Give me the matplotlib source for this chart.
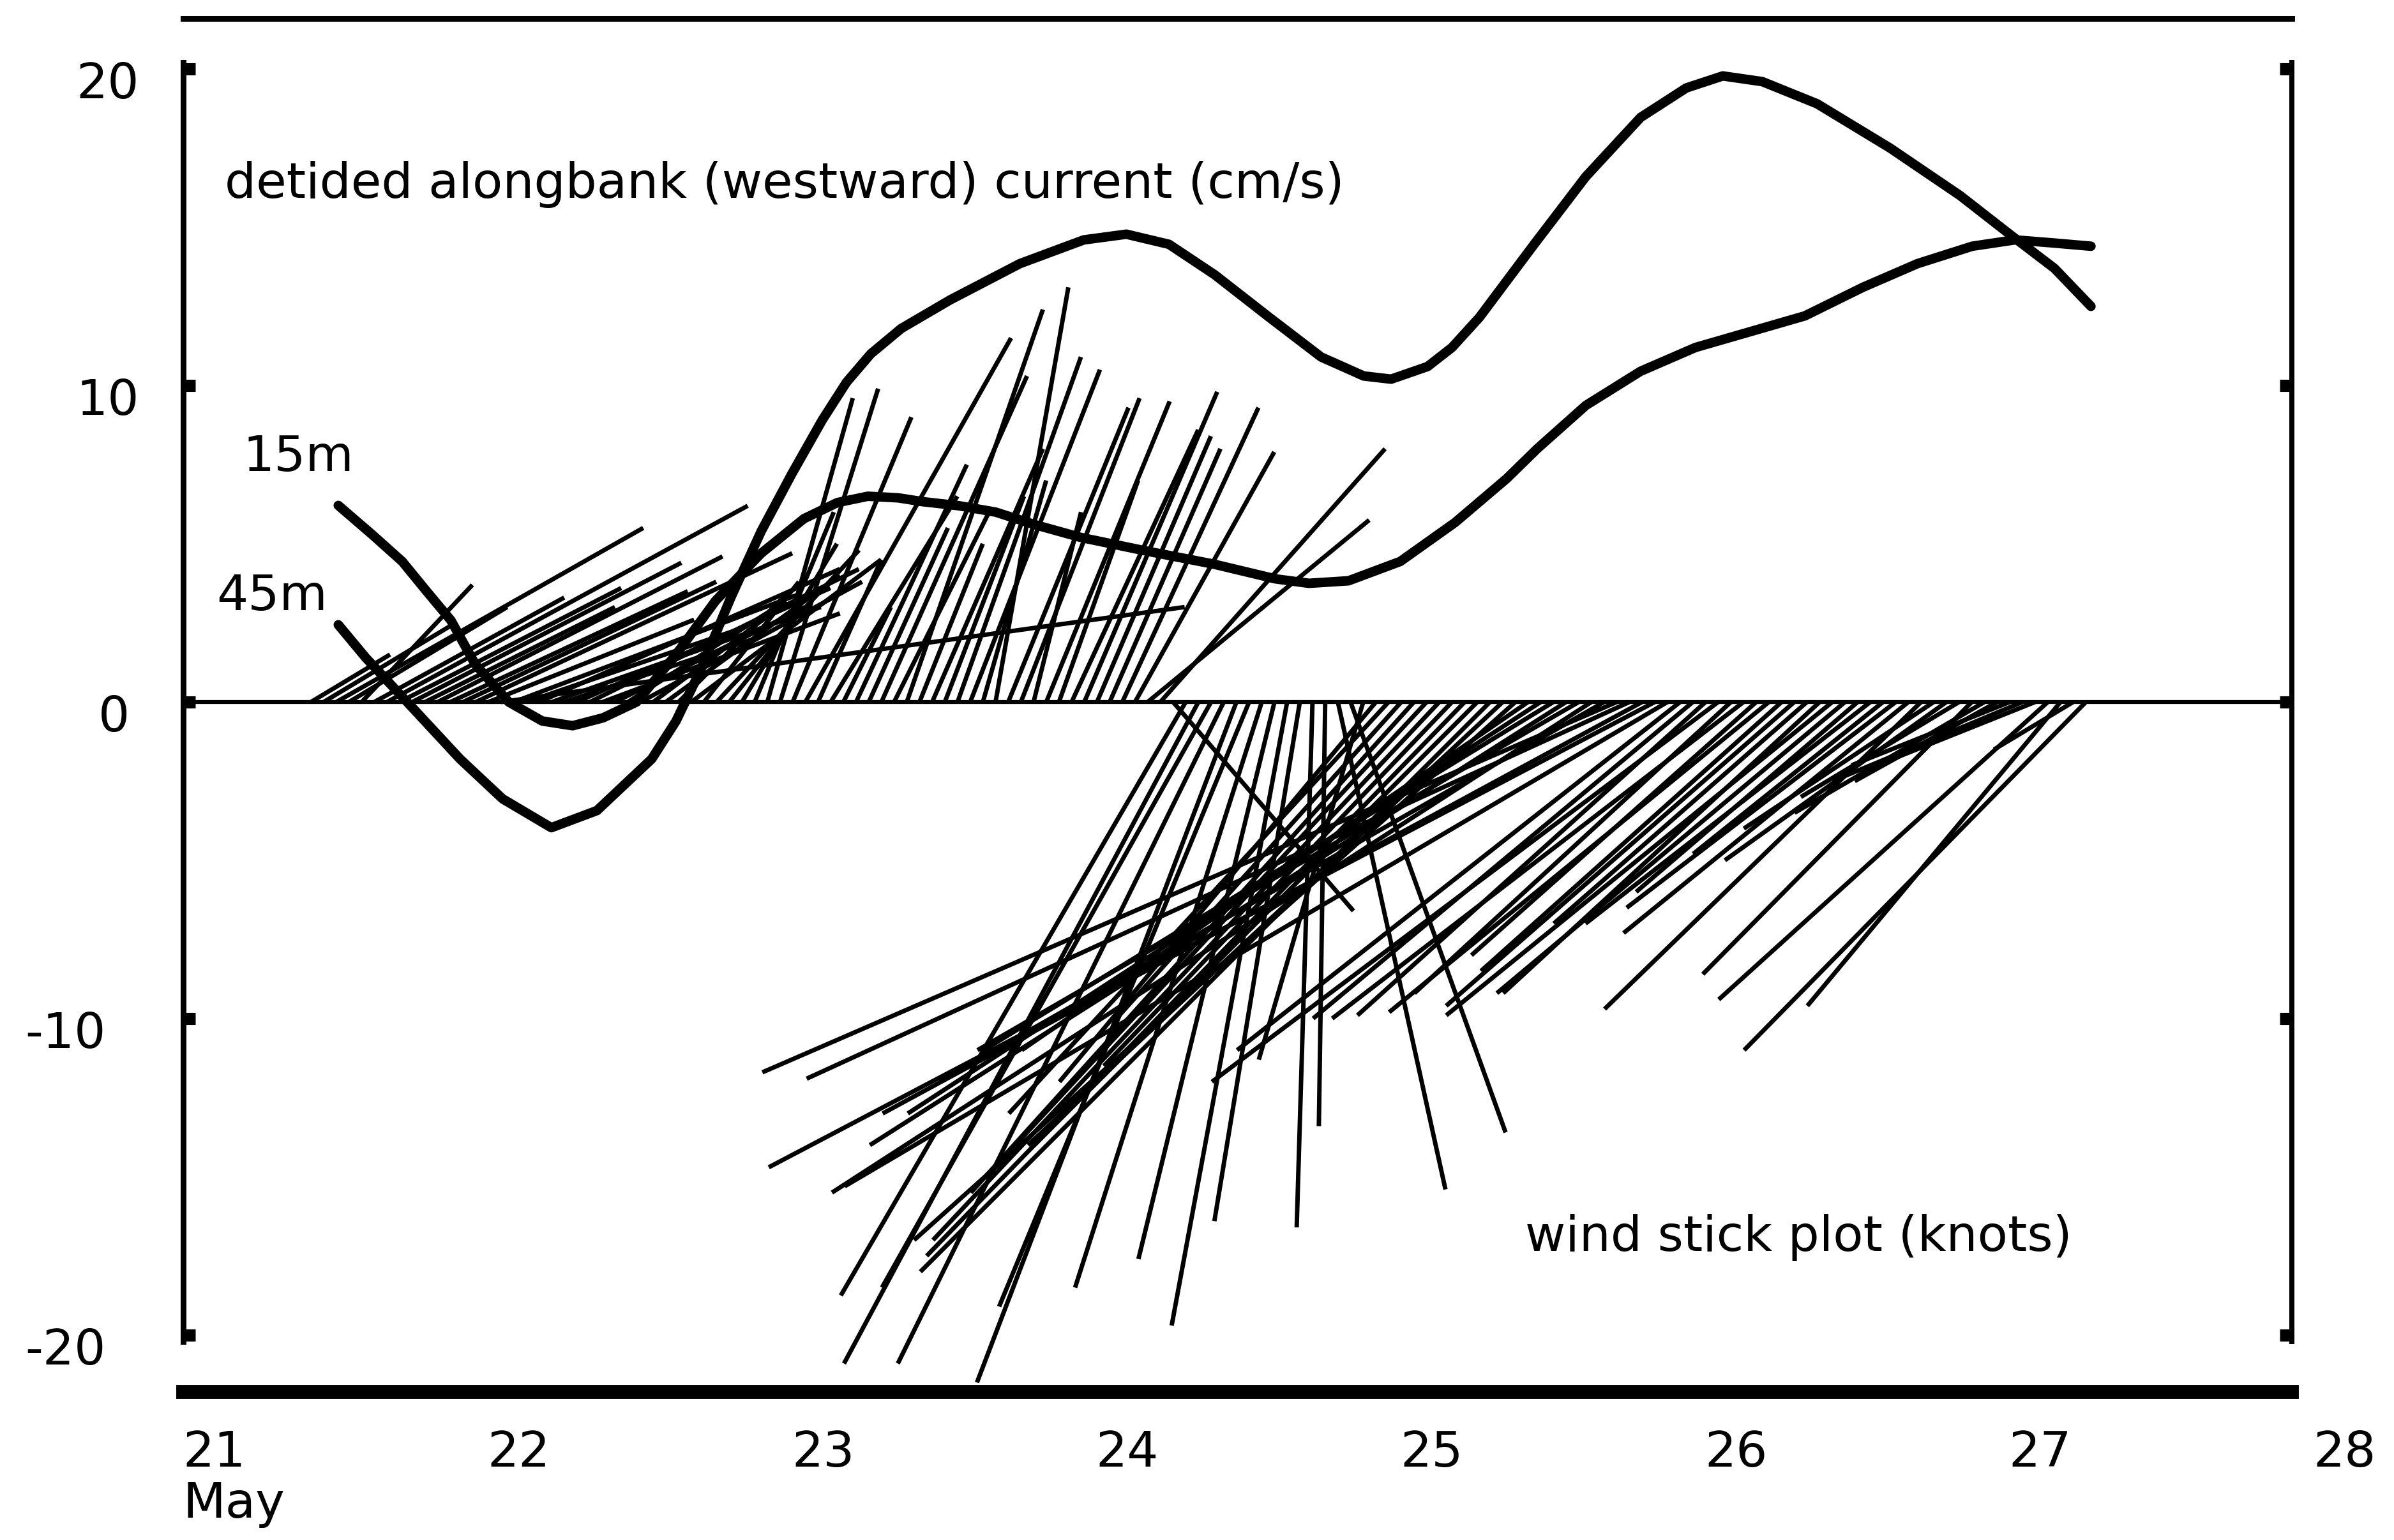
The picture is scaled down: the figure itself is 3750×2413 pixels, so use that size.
import numpy as np
import matplotlib
matplotlib.use('Agg')
import matplotlib.pyplot as plt
from matplotlib import rcParams
import matplotlib.transforms as mtransforms

rcParams['font.family'] = 'DejaVu Sans'
rcParams['font.size'] = 22.3

# ---------------- data ----------------
# detided alongbank current, 45 m (the curve that dips to -4 and peaks near 20)
cur45_day = [21.51, 21.60, 21.74, 21.91, 22.05, 22.21, 22.36, 22.54, 22.62, 22.70,
             22.80, 22.90, 23.00, 23.10, 23.18, 23.26, 23.36, 23.52, 23.75, 23.96,
             24.10, 24.24, 24.39, 24.57, 24.74, 24.88, 24.97, 25.09, 25.17, 25.26,
             25.44, 25.61, 25.79, 25.94, 26.06, 26.19, 26.37, 26.61, 26.84, 27.00,
             27.15, 27.27]
cur45_val = [2.44, 1.40, -0.04, -1.80, -3.06, -3.97, -3.43, -1.80, -0.60, 1.00,
             3.30, 5.40, 7.20, 8.90, 10.10, 11.00, 11.80, 12.70, 13.85, 14.60,
             14.78, 14.46, 13.50, 12.15, 10.90, 10.30, 10.20, 10.60, 11.20, 12.15,
             14.46, 16.60, 18.47, 19.40, 19.78, 19.60, 18.90, 17.50, 16.00, 14.80,
             13.70, 12.50]

# detided alongbank current, 15 m
cur15_day = [21.51, 21.62, 21.72, 21.80, 21.88, 21.96, 22.07, 22.18, 22.28, 22.38,
             22.49, 22.62, 22.75, 22.90, 23.04, 23.15, 23.25, 23.35, 23.43, 23.55,
             23.67, 23.80, 23.95, 24.15, 24.39, 24.59, 24.70, 24.83, 25.00, 25.18,
             25.35, 25.45, 25.61, 25.79, 25.97, 26.15, 26.33, 26.52, 26.70, 26.88,
             27.02, 27.15, 27.27]
cur15_val = [6.21, 5.30, 4.44, 3.50, 2.58, 1.19, 0.00, -0.60, -0.75, -0.50,
             0.00, 1.50, 3.20, 4.70, 5.79, 6.30, 6.50, 6.45, 6.33, 6.20,
             6.00, 5.60, 5.20, 4.80, 4.35, 3.89, 3.75, 3.83, 4.44, 5.67,
             7.06, 8.00, 9.37, 10.45, 11.20, 11.70, 12.20, 13.10, 13.85, 14.40,
             14.60, 14.50, 14.40]

# hourly wind (knots), east (u) and north (v) components, first stick at 21.42 May
wind_start = 21.42
wind_u = [
    2.5, 4.0, 9.7, 5.0, 3.5, 6.0, 11.4, 7.0, 8.5, 6.0, 9.0, 7.5,
    8.0, 10.0, 6.5, 21.6, 9.0, 7.0, 9.5, 8.5, 6.0, 8.0, 8.5, 7.5,
    6.0, 5.0, 7.0, 4.0, 5.5, 3.5, 6.0, 3.0, 4.5, 2.0, 3.0, 2.5,
    2.7, 3.1, 3.75, 6.5, 2.0, 4.0, 1.5, 3.5, 2.5, 4.6, 3.0, 4.3,
    2.0, 3.5, 2.5, 3.9, 4.1, 2.0, 2.3, 3.8, 3.75, 1.5, 3.9, 2.5,
    4.0, 4.2, 3.6, 3.5, 4.3, 4.4, 7.0, 7.1, 5.7, -10.9, -11.2, -10.4,
    -10.3, -8.2, -7.9, -5.9, -4.3, -3.65, -2.7, -0.5, -0.2, 3.4, 4.9, -3.3,
    -10, -12, -9, -14, -13, -16, -11, -17, -14, -18, -15, -19,
    -16, -20, -18, -22, -19, -24, -21, -27, -26, -24, -28, -26,
    -14, -12, -11, -16, -10, -13, -9, -12, -9.5, -11, -8, -10,
    -12.2, -11, -7, -9, -6, -8.5, -9, -10, -6, -7, -5, -8.5,
    -6, -4.5, -5, -6, -4.5, -10.4, -8.0, -2.5, -10.8]
wind_v = [
    1.5, 2.4, 5.5, 3.0, 3.7, 3.3, 6.2, 3.6, 4.4, 3.0, 4.6, 3.5,
    3.8, 4.7, 2.6, 3.0, 3.4, 2.4, 4.2, 3.0, 2.0, 3.6, 4.2, 2.8,
    3.0, 3.2, 3.8, 3.0, 4.0, 3.5, 4.5, 3.8, 4.8, 2.5, 5.0, 6.0,
    9.6, 9.9, 9.0, 11.5, 4.5, 6.5, 3.0, 7.5, 5.5, 10.3, 6.0, 12.4,
    5.0, 8.0, 6.5, 10.9, 10.5, 7.0, 13.1, 9.3, 9.6, 6.0, 9.5, 7.0,
    8.6, 9.8, 8.4, 8.0, 9.3, 7.9, 5.75, 8.0, -6.6, -18.75, -20.9, -18.5,
    -20.9, -21.5, -19.1, -18.5, -17.6, -19.7, -16.4, -16.6, -13.4, -15.4, -13.6, -11.3,
    -12, -13, -10, -15.5, -14, -17, -11.5, -17.5, -14, -18, -14, -17,
    -11, -13, -11, -14, -11, -15.5, -12, -11.7, -11.9, -13, -14.7, -15.3,
    -11, -10, -9.9, -12, -9.2, -10, -8, -9.8, -8.5, -9.6, -7, -9.2,
    -9.9, -9.2, -6, -7, -4.8, -6.5, -7.3, -9.7, -4, -5, -3, -8.6,
    -3.5, -2.5, -2, -2.5, -1.8, -9.4, -9.6, -1.5, -11.0]

day_ticks = [21, 22, 23, 24, 25, 26, 27]
day_labels = ['21\nMay', '22', '23', '24', '25', '26', '27']
y_ticks = [-20, -10, 0, 10, 20]
y_labels = ['-20', '-10', '0', '10', '20']
# the printed y labels are not lined up; horizontal nudges in pixels
y_label_dx = [-38, -38, 0, 14, 14]

# ---------------- figure ----------------
dpi = 250
fig = plt.figure(figsize=(15, 9.652), dpi=dpi)
ax = fig.add_axes([0.0765, 0.0961, 0.8808, 0.892])

# sticks: hourly, x component in days so the sticks keep their true angle
days_per_knot = 0.104
stick_t = wind_start + np.arange(len(wind_u)) / 24.
for t, u, v in zip(stick_t, wind_u, wind_v):
    ax.plot([t, t + u * days_per_knot], [0, v], color='k', lw=2.0,
            solid_capstyle='butt', zorder=2)

ax.axhline(0, color='k', lw=1.8, zorder=1)

ax.plot(cur45_day, cur45_val, color='k', lw=4.3, solid_capstyle='round',
        solid_joinstyle='round', zorder=3)
ax.plot(cur15_day, cur15_val, color='k', lw=4.3, solid_capstyle='round',
        solid_joinstyle='round', zorder=3)

ax.text(21.136, 15.93, 'detided alongbank (westward) current (cm/s)',
        va='baseline', ha='left')
ax.text(21.197, 7.30, '15m', va='baseline', ha='left')
ax.text(21.11, 2.90, '45m', va='baseline', ha='left')
ax.text(25.41, -17.34, 'wind stick plot (knots)', va='baseline', ha='left')

ax.set_xlim(21, 27.93)
ax.set_ylim(-21.8, 21.6)

# frame
ax.spines['left'].set_bounds(-20.2, 20.2)
ax.spines['right'].set_bounds(-20.2, 20.2)
ax.spines['left'].set_linewidth(2.6)
ax.spines['right'].set_linewidth(2.3)
ax.spines['top'].set_linewidth(2.6)
ax.spines['bottom'].set_linewidth(6.3)

ax.set_xticks(day_ticks)
ax.set_xticklabels(day_labels, ha='left', linespacing=1.1)
ax.tick_params(axis='x', length=0, pad=17)
# last day label sits just past the right frame
ax.annotate('28', xy=(28, 0), xycoords=('data', 'axes fraction'),
            xytext=(0, -17), textcoords='offset points',
            ha='left', va='top', annotation_clip=False)

ax.set_yticks(y_ticks)
ax.set_yticklabels(y_labels)
ax.tick_params(axis='y', left=True, right=True, direction='in',
               length=5.5, width=5.5, pad=24)

for lab, dx in zip(ax.get_yticklabels(), y_label_dx):
    shift = mtransforms.ScaledTranslation(dx / dpi, -17. / dpi,
                                          fig.dpi_scale_trans)
    lab.set_transform(lab.get_transform() + shift)

fig.savefig('out.png', dpi=dpi, facecolor='white')
